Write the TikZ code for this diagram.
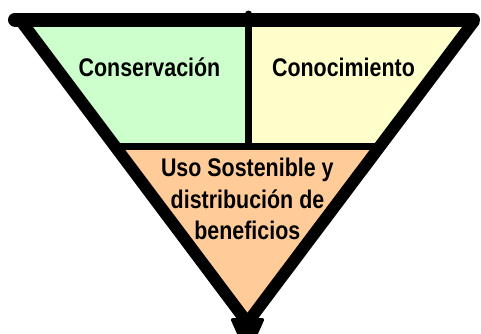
\documentclass[tikz,border=0pt]{standalone}
\usepackage{fontspec}
\setmainfont{Liberation Sans}[FakeStretch=0.84]
\definecolor{cgreen}{HTML}{CCFFCC}
\definecolor{cyellow}{HTML}{FFFFCC}
\definecolor{corange}{HTML}{FFCC99}
\begin{document}
\begin{tikzpicture}[x=1pt,y=-1pt,
  lbl/.style={inner sep=0pt,anchor=base,font=\bfseries\fontsize{25.5}{31}\selectfont},
  edge/.style={line width=12pt,line join=miter,draw=black}]
\useasboundingbox (0,0) rectangle (481,333);
\coordinate (TL) at (20.2,20);
\coordinate (TR) at (474.8,20);
\coordinate (B) at (247.4,322.7);
\coordinate (ML) at (114.9,146);
\coordinate (MR) at (380.3,146);
\coordinate (MT) at (248.5,20);
\coordinate (MM) at (248.5,146);
\coordinate (VT) at (248.5,14);
% fills
\fill[cgreen] (TL) -- (MT) -- (MM) -- (ML) -- cycle;
\fill[cyellow] (MT) -- (TR) -- (MR) -- (MM) -- cycle;
\fill[corange] (ML) -- (MR) -- (B) -- cycle;
% dividers
\draw[line width=7pt] (ML) -- (MR);
\draw[line width=7pt,line cap=round] (VT) -- (MM);
% outline
\draw[edge] (TL) -- (B) -- (TR);
\coordinate (TLc) at (15,19.5);
\coordinate (TRc) at (473,19.5);
\draw[line width=14pt,line cap=round] (TLc) -- (TRc);
\coordinate (K1) at (230,318);
\coordinate (K2) at (238,336);
\coordinate (K3) at (257,336);
\coordinate (K4) at (265,318);
\fill[rounded corners=3pt] (K1) -- (K2) -- (K3) -- (K4) -- cycle;
% labels
\node[lbl] (cons) at (149.5,76) {Conservación};
\node[lbl] (cono) at (343.5,76) {Conocimiento};
\node[lbl] (u1) at (247.3,176.7) {Uso Sostenible y};
\node[lbl] (u2) at (247.5,208.3) {distribución de};
\node[lbl] (u3) at (247.3,239) {beneficios};
\end{tikzpicture}
\end{document}
